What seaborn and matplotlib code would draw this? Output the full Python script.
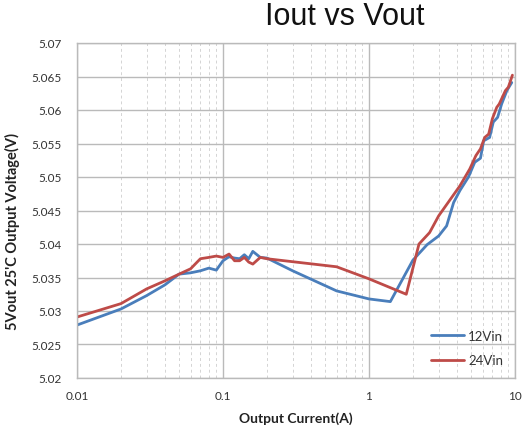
import matplotlib
matplotlib.use("Agg")
import matplotlib.pyplot as plt
import matplotlib.ticker as mticker
import seaborn as sns
import pandas as pd
import numpy as np

# 12Vin series
x_12 = [0.01, 0.02, 0.03, 0.04, 0.05, 0.06, 0.07, 0.08, 0.09, 0.1, 0.11, 0.12, 0.13,
        0.14, 0.15, 0.16, 0.18, 0.2, 0.3, 0.6, 1.0, 1.4, 2.0, 2.5, 3.0, 3.4, 3.8, 4.2,
        4.8, 5.3, 5.8, 6.1, 6.7, 7.1, 7.6, 8.1, 8.8, 9.5]
v_12 = [5.0279, 5.0303, 5.0323, 5.0339, 5.0355, 5.0357, 5.0360, 5.0364, 5.0361, 5.0375,
        5.0381, 5.0379, 5.0378, 5.0384, 5.0378, 5.0389, 5.0380, 5.0379, 5.0360, 5.0330,
        5.0318, 5.0314, 5.0376, 5.0399, 5.0412, 5.0427, 5.0462, 5.0480, 5.0500, 5.0522,
        5.0528, 5.0554, 5.0559, 5.0582, 5.0589, 5.0609, 5.0629, 5.0641]

# 24Vin series
x_24 = [0.01, 0.02, 0.03, 0.04, 0.05, 0.06, 0.07, 0.08, 0.09, 0.1, 0.11, 0.12, 0.13,
        0.14, 0.15, 0.16, 0.18, 0.2, 0.6, 1.0, 1.8, 2.2, 2.6, 3.0, 4.2, 4.9, 5.4, 5.8,
        6.2, 6.6, 7.0, 7.5, 7.8, 8.6, 9.0, 9.6]
v_24 = [5.0291, 5.0311, 5.0333, 5.0345, 5.0355, 5.0363, 5.0378, 5.0380, 5.0382, 5.0380,
        5.0385, 5.0375, 5.0375, 5.0380, 5.0373, 5.0370, 5.0380, 5.0378, 5.0366, 5.0348,
        5.0325, 5.0400, 5.0417, 5.0442, 5.0487, 5.0512, 5.0532, 5.0542, 5.0559, 5.0564,
        5.0587, 5.0604, 5.0609, 5.0629, 5.0634, 5.0652]

series_names = ["12Vin", "24Vin"]
y_ticks = [5.02, 5.025, 5.03, 5.035, 5.04, 5.045, 5.05, 5.055, 5.06, 5.065, 5.07]
x_ticks = [0.01, 0.1, 1, 10]
x_tick_labels = ["0.01", "0.1", "1", "10"]

df = pd.concat([
    pd.DataFrame({"current": x_12, "voltage": v_12, "vin": series_names[0]}),
    pd.DataFrame({"current": x_24, "voltage": v_24, "vin": series_names[1]}),
], ignore_index=True)

sns.set_theme(style="white")
plt.rcParams['font.family'] = ['Lato', 'DejaVu Sans']

fig = plt.figure(figsize=(5.29, 4.27), dpi=100)
ax = fig.add_axes([77 / 529, 1 - 379 / 427, 438 / 529, 335 / 427])

palette = {"12Vin": "#4a7ebb", "24Vin": "#be4b48"}
sns.lineplot(data=df, x="current", y="voltage", hue="vin", palette=palette,
             estimator=None, sort=False, linewidth=2.0, ax=ax, legend=False)

ax.set_xscale("log")
ax.set_xlim(0.01, 10)
ax.set_ylim(5.02, 5.07)
ax.set_yticks(y_ticks)
ax.set_yticklabels([f"{t:g}" for t in y_ticks])
ax.set_xticks(x_ticks)
ax.set_xticklabels(x_tick_labels)
ax.xaxis.set_minor_locator(mticker.LogLocator(base=10, subs=np.arange(2, 10)))
ax.xaxis.set_minor_formatter(mticker.NullFormatter())

ax.grid(True, which="major", axis="both", color="#bababa", linewidth=1.0, linestyle="-")
ax.grid(True, which="minor", axis="x", color="#d4d4d4", linewidth=0.7, linestyle=(0, (3, 3)))
ax.set_axisbelow(True)
for s in ax.spines.values():
    s.set_color("#bababa")
    s.set_linewidth(1.0)

ax.tick_params(axis="both", which="both", length=0, labelsize=8.5, labelcolor="#333333")
ax.tick_params(axis="y", pad=11)
ax.tick_params(axis="x", pad=9)

ax.set_xlabel("Output Current(A)", fontsize=10, fontweight="bold", color="#222222")
ax.set_ylabel("5Vout 25'C Output Voltage(V)", fontsize=10.5, fontweight="bold", color="#222222")
ax.xaxis.set_label_coords(0.5, -0.1)
ax.yaxis.set_label_coords(-0.13, 0.44)

fig.text(345 / 529, 1 - 17 / 427, "Iout vs Vout", ha="center", va="center",
         fontsize=22, family=["Liberation Sans", "DejaVu Sans"], color="#111111")

handles = [plt.Line2D([], [], color=palette[n], linewidth=2.0) for n in series_names]
ax.legend(handles, series_names, loc="lower right", bbox_to_anchor=(1.0, 0.0),
          frameon=False, fontsize=9.5, handlelength=2.5, labelspacing=0.95,
          handletextpad=0.3, labelcolor="#333333")

fig.savefig("out.png", dpi=100)
